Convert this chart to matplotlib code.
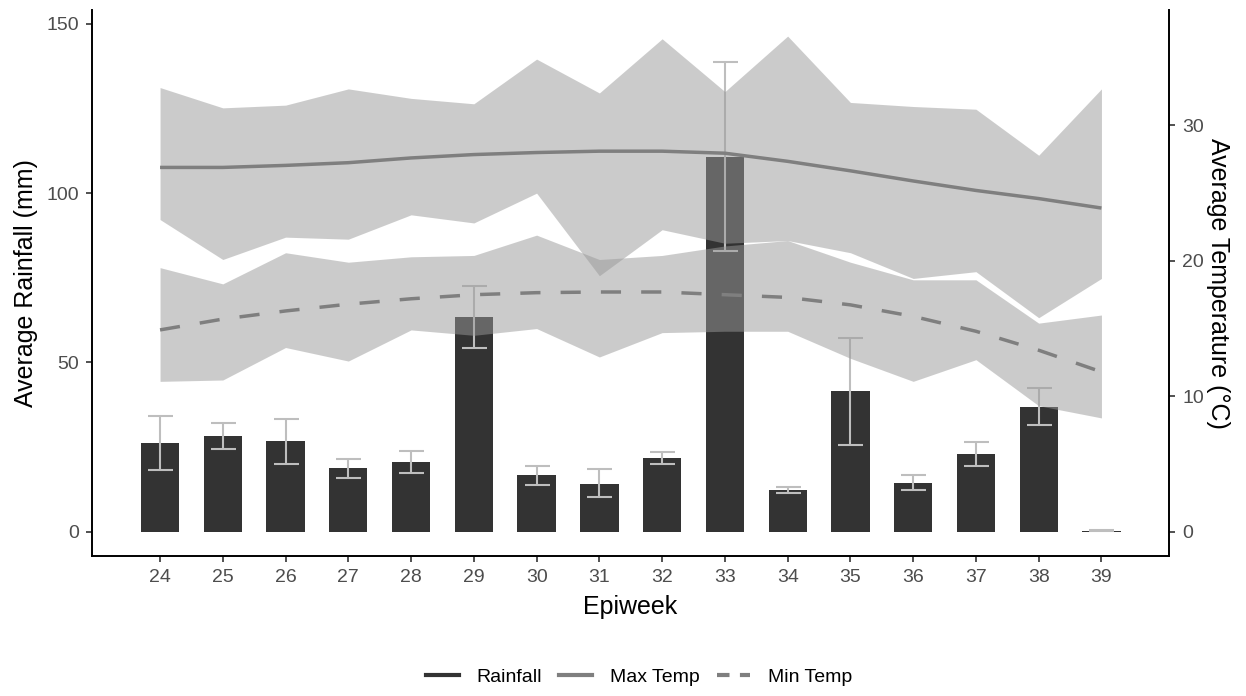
import numpy as np
import matplotlib.pyplot as plt
from matplotlib.lines import Line2D

plt.rcParams['font.family'] = ['Liberation Sans', 'DejaVu Sans']

# dados
epiweek = [24, 25, 26, 27, 28, 29, 30, 31, 32, 33, 34, 35, 36, 37, 38, 39]
rain = [26.1, 28.2, 26.8, 18.8, 20.6, 63.5, 16.6, 14.2, 21.9, 110.7, 12.3, 41.5, 14.5, 22.8, 36.8, 0.3]
rain_lo = [18.3, 24.5, 20.1, 15.9, 17.4, 54.2, 13.9, 10.2, 20.1, 82.8, 11.5, 25.5, 12.3, 19.4, 31.4, 0.2]
rain_hi = [34.1, 32.0, 33.4, 21.6, 23.8, 72.7, 19.3, 18.5, 23.5, 138.6, 13.1, 57.2, 16.6, 26.4, 42.4, 0.4]

tmax_lo = [23.05, 20.1, 21.75, 21.6, 23.4, 22.8, 25.0, 18.9, 22.3, 21.3, 21.5, 20.6, 18.7, 19.2, 15.8, 18.7]
tmax_hi = [32.8, 31.3, 31.5, 32.7, 32.0, 31.6, 34.9, 32.4, 36.4, 32.5, 36.6, 31.7, 31.4, 31.2, 27.8, 32.7]
tmin_lo = [11.1, 11.2, 13.6, 12.6, 14.9, 14.5, 15.0, 12.9, 14.7, 14.8, 14.8, 12.8, 11.1, 12.7, 9.3, 8.4]
tmin_hi = [19.5, 18.3, 20.6, 19.9, 20.3, 20.4, 21.9, 20.1, 20.4, 21.1, 21.5, 19.9, 18.6, 18.6, 15.4, 16.0]

tmax_smooth = [26.9, 26.9, 27.05, 27.25, 27.6, 27.85, 28.0, 28.1, 28.1, 27.95, 27.35, 26.65, 25.9, 25.2, 24.6, 23.9]
tmin_smooth = [14.9, 15.7, 16.3, 16.8, 17.2, 17.5, 17.65, 17.7, 17.7, 17.5, 17.3, 16.75, 15.9, 14.8, 13.4, 11.8]

escala = 4  # mm por grau

fig = plt.figure(figsize=(12.46, 6.96), dpi=100)
ax = fig.add_axes([0.0738, 0.2011, 0.8646, 0.7845])
ax2 = ax.twinx()

# barras + erro
ax.bar(epiweek, rain, width=0.61, color='#333333', zorder=2)
yerr = [np.array(rain) - np.array(rain_lo), np.array(rain_hi) - np.array(rain)]
ax.errorbar(epiweek, rain, yerr=yerr, fmt='none', ecolor='#BEBEBE', elinewidth=1.5,
            capsize=9, capthick=1.5, zorder=3)

# faixas de temperatura e curvas suavizadas
ax2.fill_between(epiweek, tmax_lo, tmax_hi, color='#999999', alpha=0.5, lw=0)
ax2.fill_between(epiweek, tmin_lo, tmin_hi, color='#999999', alpha=0.5, lw=0)
ax2.plot(epiweek, tmax_smooth, color='#7F7F7F', lw=2.5, solid_capstyle='butt')
ax2.plot(epiweek, tmin_smooth, color='#7F7F7F', lw=2.5, dashes=(5.8, 5.8))

ylo, yhi = -7.2, 154.1
ax.set_ylim(ylo, yhi)
ax2.set_ylim(ylo / escala, yhi / escala)
ax.set_xlim(22.915, 40.08)

ax.set_xticks(epiweek)
ax.set_yticks([0, 50, 100, 150])
ax2.set_yticks([0, 10, 20, 30])

for a in (ax, ax2):
    a.spines['top'].set_visible(False)
    for s in a.spines.values():
        s.set_linewidth(1.4)
    a.tick_params(length=4.3, width=1.2, color='#333333', labelsize=14,
                  labelcolor='#4D4D4D', pad=5)
ax.spines['right'].set_visible(False)
ax2.spines['left'].set_visible(False)
ax2.spines['bottom'].set_visible(False)

ax.set_xlabel('Epiweek', fontsize=18)
ax.set_ylabel('Average Rainfall (mm)', fontsize=18)
ax2.set_ylabel('Average Temperature (°C)', fontsize=18, rotation=270, va='center')
ax.xaxis.set_label_coords(0.5, -0.072)
ax.yaxis.set_label_coords(-0.050, 0.5)
ax2.yaxis.set_label_coords(1.0455, 0.5)

handles = [
    Line2D([], [], color='#333333', lw=3),
    Line2D([], [], color='#7F7F7F', lw=3),
    Line2D([], [], color='#7F7F7F', lw=3, dashes=(3, 2.5)),
]
fig.legend(handles, ['Rainfall', 'Max Temp', 'Min Temp'], loc='center',
           bbox_to_anchor=(0.5128, 0.0273), ncol=3, frameon=False, fontsize=14,
           handlelength=1.7, handletextpad=0.9, columnspacing=0.9)

plt.savefig('out.png', dpi=100)
